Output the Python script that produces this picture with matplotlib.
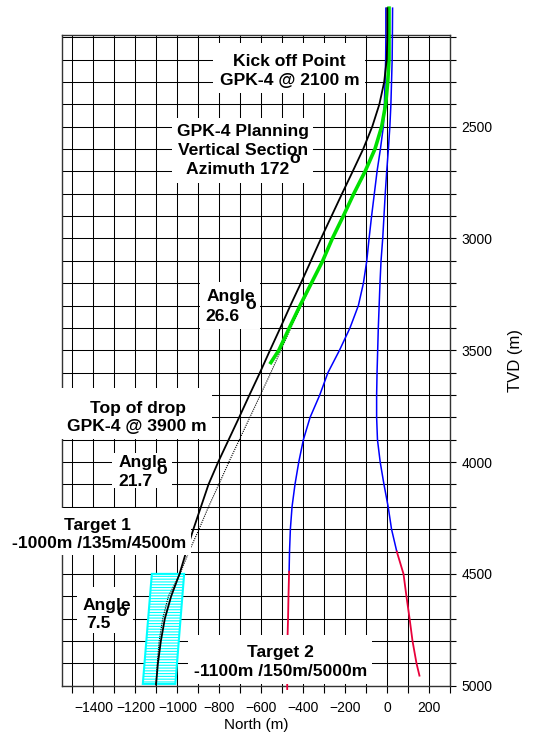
import matplotlib
matplotlib.use('Agg')
import matplotlib.pyplot as plt
from matplotlib.patches import Rectangle, Polygon
from matplotlib.ticker import MultipleLocator

plt.rcParams['font.family'] = ['Liberation Sans', 'DejaVu Sans']
plt.rcParams['hatch.linewidth'] = 0.8

# ---------------- data (North in m, TVD in m) ----------------
plan_tvd = [1970, 2100, 2200, 2300, 2400, 2500, 2600, 2700, 2800, 2900, 3000, 3100, 3200,
            3300, 3400, 3500, 3600, 3700, 3800, 3900, 4000, 4100, 4200, 4300, 4400, 4500,
            4600, 4700, 4800, 4900, 4995]
plan_north = [0, 0, -3, -15, -38, -72, -115, -165, -216, -266, -316, -364, -412,
              -462, -510, -559, -607, -657, -706, -756, -806, -852, -888, -924, -958, -990,
              -1030, -1060, -1079, -1093, -1102]

alt_tvd = [1970, 2100, 2200, 2300, 2400, 2500, 2600, 2700, 2800, 2900, 3000, 3100, 3200,
           3300, 3400, 3500, 3600, 3700, 3800, 3900, 4000, 4100, 4200, 4300, 4400, 4500,
           4600, 4700, 4800, 4900, 4995]
alt_north = [6, 6, 6, 1, -8, -27, -58, -104, -158, -210, -262, -306, -360,
             -410, -460, -507, -555, -605, -655, -705, -755, -803, -852, -897, -945, -988,
             -1043, -1070, -1087, -1096, -1102]

green_tvd = [1970, 2100, 2200, 2300, 2400, 2500, 2600, 2700, 2800, 2900, 3000, 3100, 3200,
             3300, 3400, 3500, 3555]
green_north = [8, 8, 8, 2, -8, -27, -59, -106, -160, -210, -262, -308, -362,
               -416, -467, -517, -555]

blue1_tvd = [1970, 2100, 2200, 2300, 2400, 2500, 2600, 2700, 2800, 2900, 3000, 3100, 3200,
             3300, 3400, 3500, 3600, 3700, 3800, 3900, 4000, 4100, 4200, 4300, 4400, 4490]
blue1_north = [-7, -7, -8, -11, -14, -19, -33, -49, -62, -75, -87, -98, -114,
               -138, -178, -228, -283, -322, -368, -400, -422, -440, -454, -462, -466, -468]
red1_tvd = [4490, 4600, 4700, 4800, 4900, 5015]
red1_north = [-468, -471, -473, -476, -477, -477]

blue2_tvd = [1970, 2100, 2200, 2300, 2400, 2500, 2600, 2700, 2800, 2900, 3000, 3100, 3200,
             3300, 3400, 3500, 3600, 3700, 3800, 3900, 4000, 4100, 4200, 4300, 4400]
blue2_north = [25, 24, 23, 20, 17, 12, 5, -3, -10, -16, -22, -30, -35,
               -39, -43, -46, -49, -51, -51, -47, -34, -16, 4, 20, 45]
red2_tvd = [4400, 4500, 4600, 4700, 4800, 4900, 4955]
red2_north = [45, 77, 91, 106, 120, 139, 153]

target_north = [-1122, -968, -1010, -1165]
target_tvd = [4500, 4500, 4992, 4992]

x_ticks = [-1400, -1200, -1000, -800, -600, -400, -200, 0, 200]
y_ticks = [2500, 3000, 3500, 4000, 4500, 5000]

# ---------------- figure ----------------
W, H = 541, 732
fig = plt.figure(figsize=(W / 100, H / 100), dpi=100)
ax = fig.add_axes([62 / W, 1 - 685.7 / H, (450.3 - 62) / W, (685.7 - 35) / H])
ax.set_xlim(-1550, 300)
ax.set_ylim(5000, 2090)

ax.set_xticks(x_ticks)
ax.xaxis.set_minor_locator(MultipleLocator(100))
ax.set_yticks(y_ticks)
ax.yaxis.set_minor_locator(MultipleLocator(100))
ax.yaxis.tick_right()
ax.yaxis.set_label_position('right')
ax.tick_params(axis='x', which='both', direction='out', length=5, width=0.8,
               pad=6, labelsize=10, top=False)
ax.tick_params(axis='y', which='both', direction='out', length=4, width=0.8,
               pad=4, labelsize=10, left=False, right=True)
ax.grid(True, which='both', color='black', linewidth=0.75)
ax.set_axisbelow(True)
for s in ax.spines.values():
    s.set_linewidth(1.0)
    s.set_color('#333333')

ax.set_xlabel('North (m)', fontsize=11, labelpad=2)
ax.set_ylabel('TVD (m)', fontsize=12, labelpad=11)

# target window
ax.add_patch(Polygon(list(zip(target_north, target_tvd)), closed=True,
                     facecolor='white', edgecolor='#00ffff', hatch='------',
                     linewidth=1.5, zorder=2.5))

kw = dict(clip_on=False, zorder=3)
ax.plot(blue1_north, blue1_tvd, color='#0000ff', lw=1.1, **kw)
ax.plot(red1_north, red1_tvd, color='#e8003a', lw=1.3, **kw)
ax.plot(blue2_north, blue2_tvd, color='#0000ff', lw=1.1, **kw)
ax.plot(red2_north, red2_tvd, color='#e8003a', lw=1.3, **kw)
ax.plot(alt_north, alt_tvd, color='black', lw=0.8, ls=(0, (1, 1)), **kw)
ax.plot(green_north, green_tvd, color='#00e000', lw=2.6, **kw)
ax.plot(plan_north, plan_tvd, color='black', lw=1.3, **kw)


# ---------------- annotation boxes ----------------
def box(x0, x1, y0, y1):
    fig.add_artist(Rectangle((x0 / W, 1 - y1 / H), (x1 - x0) / W, (y1 - y0) / H,
                             transform=fig.transFigure, facecolor='white',
                             edgecolor='none', zorder=2))


def line(s, xc, yc, size=12.6):
    fig.text(xc / W, 1 - (yc + 0.358 * size * 100 / 72) / H, s, ha='center',
             va='baseline', fontsize=size, fontweight='bold', zorder=3)


def deg(xc, yc, size=12.6):
    fig.text(xc / W, 1 - (yc + 0.26 * size * 100 / 72) / H, 'o', ha='center',
             va='baseline', fontsize=size, fontweight='bold', zorder=3)


box(213, 365, 43, 93)
line('Kick off Point', 289.3, 60)
line('GPK-4 @ 2100 m', 289.7, 79)

box(172, 313, 118, 183)
line('GPK-4 Planning', 243, 130)
line('Vertical Section', 243.3, 149)
line('Azimuth 172', 237.7, 167.8)
deg(294.7, 158.3)

box(200, 260, 282, 329)
line('Angle', 231, 295.2)
line('26.6', 222.5, 314.8)
deg(250.7, 304)

box(55, 212, 388, 439)
line('Top of drop', 137.7, 406.7)
line('GPK-4 @ 3900 m', 137.3, 424.7)

box(112, 172, 453, 488)
line('Angle', 143, 460.3)
line('21.7', 135, 480)
deg(161.7, 469.5)

box(0, 191, 508, 555)
line('Target 1', 97.8, 523.3)
line('-1000m /135m/4500m', 99.5, 541.7)

box(77, 133, 587, 633)
line('Angle', 107, 603.3)
line('7.5', 98.7, 621.7)
deg(121.7, 611.7)

box(188, 372, 635, 684)
line('Target 2', 280.3, 651)
line('-1100m /150m/5000m', 280.5, 669.7)

fig.savefig('out.png', dpi=100)
